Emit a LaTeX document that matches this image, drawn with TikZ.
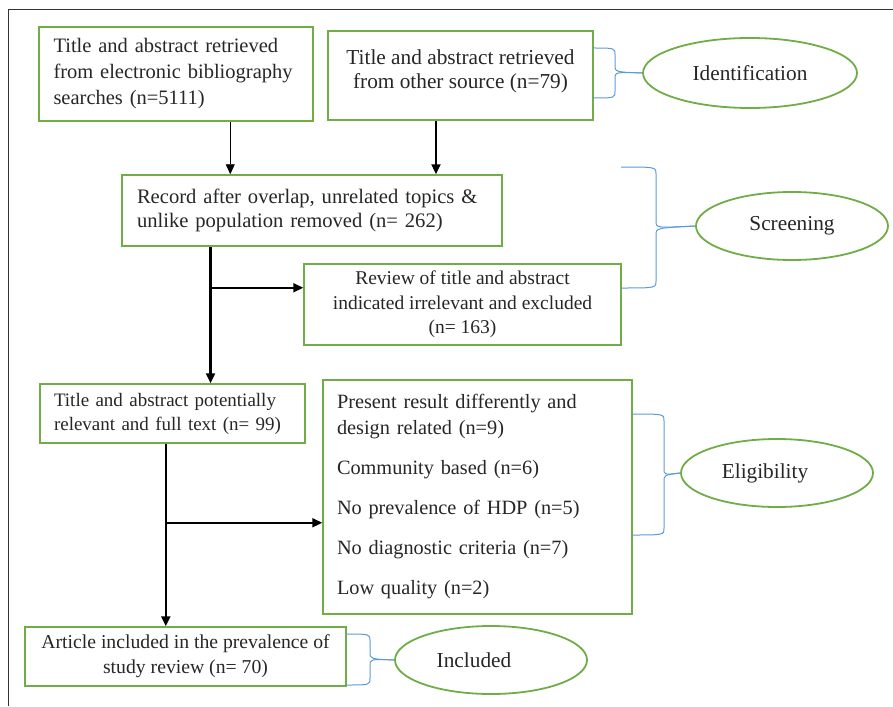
\documentclass[tikz,border=0pt]{standalone}
\usepackage{fontspec}
\setmainfont{Liberation Serif}
\usetikzlibrary{arrows.meta,shapes.geometric,calc}
\definecolor{boxgreen}{RGB}{112,173,71}
\definecolor{braceblue}{RGB}{91,155,213}
% 侧括号: x0, 上端y, 竖线x, 下端y, 尖端y, 目标
\newcommand{\sidebrace}[6]{%
  \draw[brace] (#1,#2) .. controls (#3,#2) .. (#3,#2+7) -- (#3,#5-7) .. controls (#3,#5) .. (#6.west);
  \draw[brace] (#1,#4) .. controls (#3,#4) .. (#3,#4-7) -- (#3,#5+7) .. controls (#3,#5) .. (#6.west);
}
\begin{document}
\begin{tikzpicture}[x=1pt,y=-1pt,
    txt/.style 2 args={font=\fontsize{#1}{#2}\selectfont,text=black!85},
    box/.style={draw=boxgreen,line width=1.5pt,rectangle,inner sep=0pt},
    tag/.style={txt={21.3}{25},draw=boxgreen,line width=1.8pt,ellipse,inner sep=0pt,minimum width=192pt,minimum height=68pt},
    arr/.style={line width=2.2pt,-{Triangle[length=10pt,width=9pt]}},
    thinarr/.style={line width=0.9pt,-{Triangle[length=10pt,width=9pt]}},
    brace/.style={draw=braceblue,line width=1pt}]
    \useasboundingbox (0,0) rectangle (893,706);
    % 外框
    \draw[black!80,line width=1pt] (8,706) -- (8,10) -- (893,10);
    % 方框
    \node[box,txt={20.5}{26},minimum width=274pt,minimum height=94pt,text width=245pt,align=left] (elec) at (176,74)
      {\makebox[245pt][s]{Title and abstract retrieved}\\\makebox[245pt][s]{from electronic bibliography}\\searches (n=5111)};
    \node[box,txt={21.3}{24.5},minimum width=265pt,minimum height=89pt,align=center] (other) at (460.5,75.5)
      {Title and abstract retrieved\\from other source (n=79)\rule[-13pt]{0pt}{0pt}};
    \node[box,txt={20.6}{24},minimum width=380pt,minimum height=71pt,text width=350pt,align=left] (record) at (312,210.5)
      {Record after overlap, unrelated topics \&\\unlike population removed (n= 262)};
    \node[box,txt={19.5}{24.5},minimum width=317pt,minimum height=81pt,align=center] (review) at (462.5,304.5)
      {Review of title and abstract\\indicated irrelevant and excluded\\(n= 163)};
    \node[box,txt={19}{24},minimum width=265pt,minimum height=59pt,text width=237pt,align=left] (title) at (172.5,413.5)
      {Title and abstract potentially\\relevant and full text (n= 99)};
    \node[box,txt={20.3}{26},minimum width=309pt,minimum height=234pt,text width=281pt,align=left] (reasons) at (477.5,497)
      {Present result differently and\\design related (n=9)\\[14pt]Community based (n=6)\\[14pt]No prevalence of HDP (n=5)\\[14pt]No diagnostic criteria (n=7)\\[14pt]Low quality (n=2)};
    \node[box,txt={19.7}{25},minimum width=321pt,minimum height=59pt,align=center] (article) at (185.5,656.5)
      {Article included in the prevalence of\\study review (n= 70)};
    % 椭圆
    \node[tag,minimum width=214pt,minimum height=70pt] (ident) at (750,73) {Identification};
    \node[tag] (screen) at (792,226) {Screening};
    \node[tag] (elig) at (777,473) {Eligibility\hspace*{24pt}};
    \node[tag] (incl) at (491,660) {Included\hspace*{34pt}};
    % 箭头
    \draw[thinarr] ($(elec.south west)!.697!(elec.south east)$) coordinate (a1) -- (a1 |- record.north);
    \draw[arr] ($(other.south west)!.408!(other.south east)$) coordinate (b1) -- (b1 |- record.north);
    \draw[arr] ($(record.south west)!.234!(record.south east)$) coordinate (c1) -- (c1 |- title.north);
    \path (c1) ++(0,41) coordinate (c2);
    \draw[arr] (c2) -- (c2 -| review.west);
    \draw[arr] ($(title.south west)!.475!(title.south east)$) coordinate (e1) -- (e1 |- article.north);
    \path (e1) ++(0,79) coordinate (e2);
    \draw[arr] (e2) -- (e2 -| reasons.west);
    % 括号
    \sidebrace{593}{48}{615}{98}{72}{ident}
    \sidebrace{621}{167}{656}{288}{228}{screen}
    \sidebrace{632}{414}{664}{535}{475}{elig}
    \sidebrace{346}{634}{370}{685}{659}{incl}
\end{tikzpicture}
\end{document}
